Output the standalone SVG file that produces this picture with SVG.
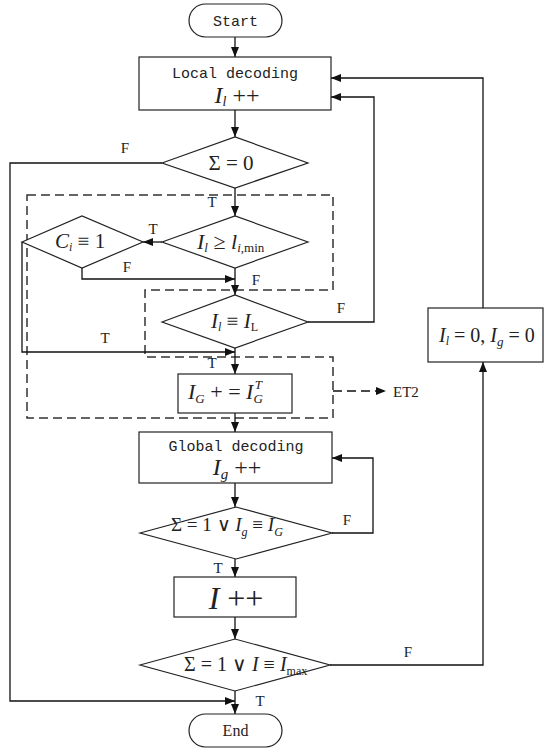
<svg xmlns="http://www.w3.org/2000/svg" width="550" height="754" viewBox="0 0 550 754">
<style>
.s{fill:#fff;stroke:#222;stroke-width:1.2}
.c{fill:none;stroke:#111;stroke-width:1.3}
.d{fill:none;stroke:#333;stroke-width:1.5;stroke-dasharray:9,5}
.mono{font-family:"Liberation Mono","DejaVu Sans Mono",monospace;font-size:15px;fill:#222}
.lb{font-family:"Liberation Serif","Times New Roman",serif;font-size:15px;fill:#222}
.m{font-family:"Liberation Serif","Times New Roman",serif;fill:#222}
.i{font-style:italic}
</style>
<defs>
<marker id="a" viewBox="0 0 10 8" refX="10" refY="4" markerWidth="10" markerHeight="8" markerUnits="userSpaceOnUse" orient="auto">
<path d="M0,0 L10,4 L0,8 Z" fill="#111"/>
</marker>
</defs>
<rect width="550" height="754" fill="#fff"/>
<g id="dashed">
<path class="d" d="M27,195 H333 V290 H145 V357 H333 V418 H27 Z"/>
</g>
<g id="connectors">
<path class="c" d="M235,37 V57" marker-end="url(#a)"/>
<path class="c" d="M235,110 V137" marker-end="url(#a)"/>
<path class="c" d="M162,163 H10 V701 H235" marker-end="url(#a)"/>
<path class="c" d="M235,188 V216" marker-end="url(#a)"/>
<path class="c" d="M162,242 H143" marker-end="url(#a)"/>
<path class="c" d="M82,268 V279 H235" marker-end="url(#a)"/>
<path class="c" d="M235,268 V295" marker-end="url(#a)"/>
<path class="c" d="M22,242 V352 H235" marker-end="url(#a)"/>
<path class="c" d="M308,322 H374 V97 H331" marker-end="url(#a)"/>
<path class="c" d="M235,348 V374" marker-end="url(#a)"/>
<path class="c" d="M235,413 V432" marker-end="url(#a)"/>
<path class="c" d="M235,483 V507" marker-end="url(#a)"/>
<path class="c" d="M332,533 H373 V458 H332" marker-end="url(#a)"/>
<path class="c" d="M235,559 V577" marker-end="url(#a)"/>
<path class="c" d="M235,617 V639" marker-end="url(#a)"/>
<path class="c" d="M330,665 H483 V362" marker-end="url(#a)"/>
<path class="c" d="M235,691 V714" marker-end="url(#a)"/>
<path class="c" d="M483,308 V78 H331" marker-end="url(#a)"/>
<path class="c" d="M333,391 H386" stroke-dasharray="9,5" stroke-width="1.5" marker-end="url(#a)"/>
<text class="lb" x="125" y="153" text-anchor="middle">F</text>
<text class="lb" x="212" y="207" text-anchor="middle">T</text>
<text class="lb" x="153" y="234" text-anchor="middle">T</text>
<text class="lb" x="127" y="272" text-anchor="middle">F</text>
<text class="lb" x="256" y="285" text-anchor="middle">F</text>
<text class="lb" x="341" y="313" text-anchor="middle">F</text>
<text class="lb" x="105" y="343" text-anchor="middle">T</text>
<text class="lb" x="212" y="368" text-anchor="middle">T</text>
<text class="lb" x="347" y="525" text-anchor="middle">F</text>
<text class="lb" x="218" y="573" text-anchor="middle">T</text>
<text class="lb" x="408" y="657" text-anchor="middle">F</text>
<text class="lb" x="260" y="706" text-anchor="middle">T</text>
<text class="lb" x="393" y="397">ET2</text>
</g>
<g id="start">
<rect class="s" x="189" y="4" width="93" height="33" rx="16.5"/>
<text class="mono" x="235.5" y="26" text-anchor="middle">Start</text>
</g>
<g id="local">
<rect class="s" x="139" y="57" width="192" height="53"/>
<text class="mono" x="235" y="78" text-anchor="middle">Local decoding</text>
<text class="m" x="237" y="103" text-anchor="middle" style="font-size:24px"><tspan class="i">I</tspan><tspan class="i" font-size="14" dy="3">l</tspan><tspan dy="-3"> ++</tspan></text>
</g>
<g id="sum0">
<path class="s" d="M162,163 L235,137 L308,163 L235,188 Z"/>
<text class="m" x="231" y="170" text-anchor="middle" style="font-size:21px">Σ = 0</text>
</g>
<g id="ilmin">
<path class="s" d="M162,242 L235,216 L308,242 L235,268 Z"/>
<text class="m" x="197" y="249" style="font-size:22px"><tspan class="i">I</tspan><tspan class="i" font-size="13" dy="3">l</tspan><tspan dy="-3"> ≥ </tspan><tspan class="i">l</tspan><tspan font-size="13" dy="3"><tspan class="i">i</tspan>,min</tspan></text>
</g>
<g id="ci">
<path class="s" d="M22,242 L82,216 L143,242 L82,268 Z"/>
<text class="m" x="55" y="248" style="font-size:21px"><tspan class="i">C</tspan><tspan class="i" font-size="12" dy="3">i</tspan><tspan dy="-3"> ≡ 1</tspan></text>
</g>
<g id="ilL">
<path class="s" d="M162,322 L235,295 L308,322 L235,348 Z"/>
<text class="m" x="211" y="328" style="font-size:21px"><tspan class="i">I</tspan><tspan class="i" font-size="12" dy="3">l</tspan><tspan dy="-3"> ≡ </tspan><tspan class="i">I</tspan><tspan font-size="12" dy="3">L</tspan></text>
</g>
<g id="ig">
<rect class="s" x="178" y="374" width="114" height="39"/>
<text class="m" x="188" y="399" style="font-size:22px"><tspan class="i">I</tspan><tspan class="i" font-size="13" dy="4">G</tspan><tspan dy="-4"> + = </tspan><tspan class="i">I</tspan><tspan class="i" font-size="13" dy="4">G</tspan><tspan class="i" font-size="13" dx="-8" dy="-14">T</tspan></text>
</g>
<g id="global">
<rect class="s" x="139" y="432" width="193" height="51"/>
<text class="mono" x="236" y="451" text-anchor="middle">Global decoding</text>
<text class="m" x="237" y="475" text-anchor="middle" style="font-size:24px"><tspan class="i">I</tspan><tspan class="i" font-size="15" dy="4">g</tspan><tspan dy="-4"> ++</tspan></text>
</g>
<g id="cond2">
<path class="s" d="M140,533 L236,507 L332,533 L236,559 Z"/>
<text class="m" x="171" y="531" style="font-size:19px">Σ = 1 ∨ <tspan class="i">I</tspan><tspan class="i" font-size="12" dy="5">g</tspan><tspan dy="-5"> ≡ </tspan><tspan class="i">I</tspan><tspan class="i" font-size="12" dy="5">G</tspan></text>
</g>
<g id="iplus">
<rect class="s" x="174" y="577" width="122" height="40"/>
<text class="m" x="236" y="609" text-anchor="middle" style="font-size:32px"><tspan class="i">I</tspan> ++</text>
</g>
<g id="cond3">
<path class="s" d="M140,665 L235,639 L330,665 L235,691 Z"/>
<text class="m" x="184" y="671" style="font-size:20px">Σ = 1 ∨ <tspan class="i">I</tspan> ≡ <tspan class="i">I</tspan><tspan font-size="12" dy="4">max</tspan></text>
</g>
<g id="reset">
<rect class="s" x="428" y="308" width="115" height="54"/>
<text class="m" x="439" y="342" style="font-size:20px"><tspan class="i">I</tspan><tspan class="i" font-size="12" dy="3">l</tspan><tspan dy="-3"> = 0, </tspan><tspan class="i">I</tspan><tspan class="i" font-size="13" dy="4">g</tspan><tspan dy="-4"> = 0</tspan></text>
</g>
<g id="end">
<rect class="s" x="189" y="714" width="93" height="33" rx="16.5"/>
<text class="lb" x="235.5" y="736" text-anchor="middle" style="font-size:16px">End</text>
</g>
</svg>
